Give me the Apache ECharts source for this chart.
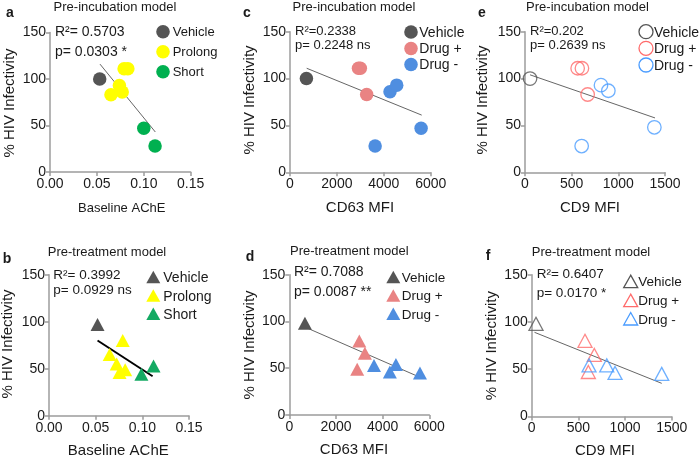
<!DOCTYPE html>
<html>
<head>
<meta charset="utf-8">
<script src="https://cdn.jsdelivr.net/npm/echarts@6/dist/echarts.min.js"></script>
<style>html,body{margin:0;background:#fff}#chart{width:700px;height:459px}</style>
</head>
<body>
<div id="chart"></div>
<script>
// 数据：% HIV Infectivity
var yTicks = [0, 50, 100, 150];
// a / b : Baseline AChE
var aVehicle = [[0.053, 100]];
var aProlong = [[0.065, 83], [0.074, 93], [0.077, 86], [0.079, 111], [0.083, 111]];
var aShort = [[0.100, 47], [0.112, 28]];
var aFit = [[0.0533, 116], [0.1123, 43]];
var bVehicle = [[0.052, 97]];
var bProlong = [[0.065, 65], [0.0725, 55], [0.0756, 46], [0.079, 80], [0.0816, 49]];
var bShort = [[0.099, 44], [0.112, 53]];
var bFit = [[0.052, 80], [0.111, 42]];
// c / d : CD63 MFI
var cVehicle = [[700, 100]];
var cDrugPlus = [[2920, 111], [3000, 111], [3270, 83]];
var cDrugMinus = [[4265, 86], [4550, 93], [3630, 28], [5590, 47]];
var cFit = [[711, 111], [5616, 61]];
var dVehicle = [[670, 98]];
var dDrugPlus = [[3000, 79], [3240, 66], [2910, 49]];
var dDrugMinus = [[3630, 53], [4310, 46], [4570, 54], [5600, 45]];
var dFit = [[670, 94], [5630, 40]];
// e / f : CD9 MFI
var eVehicle = [[54, 100]];
var eDrugPlus = [[564, 111], [610, 111], [671, 83]];
var eDrugMinus = [[814, 93], [893, 87], [607, 28], [1386, 48]];
var eFit = [[54, 104], [1393, 58]];
var fVehicle = [[46, 98]];
var fDrugPlus = [[571, 80], [671, 65], [607, 47]];
var fDrugMinus = [[614, 54], [804, 54], [893, 46], [1393, 45]];
var fFit = [[30, 89], [1393, 35]];

var legendA = ['Vehicle', 'Prolong', 'Short'];
var legendC = ['Vehicle', 'Drug +', 'Drug -'];
var statText = {
    a: ['R²= 0.5703', 'p= 0.0303 *'],
    b: ['R²= 0.3992', 'p= 0.0929 ns'],
    c: ['R²=0.2338', 'p= 0.2248 ns'],
    d: ['R²= 0.7088', 'p= 0.0087 **'],
    e: ['R²=0.202', 'p= 0.2639 ns'],
    f: ['R²= 0.6407', 'p= 0.0170 *']
};

var FONT = 'Liberation Sans, Arial, sans-serif';
var GREY = '#555555';
var AXIS = '#9c9c9c';

var chart = echarts.init(document.getElementById('chart'), null, {renderer: 'canvas'});

var grids = [], xAxes = [], yAxes = [], series = [], graphic = [];

// 面板布局
var panels = [
    {id: 'a', grid: {left: 50, top: 32.5, width: 140.7, height: 139.5}, max: 0.15, interval: 0.05, dec: 2,
     title: 'Pre-incubation model', tx: 115, ty: 7, lx: 10, ly: 13,
     yname: [10, 103], xname: ['Baseline AChE', 121.7, 208, 13], stat: [55, 31.7, 51.7, 14],
     leg: {x: 163, tx: 172.7, rows: [31.7, 51.7, 71.7], names: legendA, fs: 13}},
    {id: 'b', grid: {left: 49, top: 274.7, width: 140, height: 141}, max: 0.15, interval: 0.05, dec: 2,
     title: 'Pre-treatment model', tx: 107, ty: 252.3, lx: 7, ly: 259,
     yname: [8, 344], xname: ['Baseline AChE', 118.3, 450.7, 15], stat: [53.3, 275.7, 290.7, 13.5],
     leg: {x: 153.3, tx: 163.3, rows: [277.3, 295.7, 314], names: legendA, fs: 14}},
    {id: 'c', grid: {left: 290, top: 31.7, width: 140.7, height: 140.6}, max: 6000, interval: 2000, dec: 0,
     title: 'Pre-incubation model', tx: 354, ty: 7, lx: 247, ly: 13,
     yname: [250, 100], xname: ['CD63 MFI', 360, 208.3, 15], stat: [295, 31.7, 45.7, 13],
     leg: {x: 411, tx: 419.3, rows: [32, 48.5, 64.5], names: legendC, fs: 14}},
    {id: 'd', grid: {left: 289.3, top: 274.7, width: 140, height: 140.3}, max: 6000, interval: 2000, dec: 0,
     title: 'Pre-treatment model', tx: 349.3, ty: 251.7, lx: 250, ly: 257,
     yname: [250, 345], xname: ['CD63 MFI', 354, 449.7, 15], stat: [294, 272.3, 291.7, 14],
     leg: {x: 393.3, tx: 401.7, rows: [277.3, 295.7, 314], names: legendC, fs: 13.5}},
    {id: 'e', grid: {left: 525, top: 31.7, width: 140, height: 140.6}, max: 1500, interval: 500, dec: 0,
     title: 'Pre-incubation model', tx: 587.5, ty: 7, lx: 482, ly: 13,
     yname: [483.3, 100], xname: ['CD9 MFI', 590, 208, 15], stat: [530, 31.7, 45.7, 13],
     leg: {x: 646, tx: 654, rows: [31.7, 48.3, 65], names: legendC, fs: 14}},
    {id: 'f', grid: {left: 531.7, top: 274.7, width: 140, height: 141.7}, max: 1500, interval: 500, dec: 0,
     title: 'Pre-treatment model', tx: 591, ty: 252.3, lx: 488, ly: 255.7,
     yname: [491.7, 345.7], xname: ['CD9 MFI', 605, 450.7, 15], stat: [536.7, 274.7, 293, 13.5],
     leg: {x: 630.7, tx: 638.3, rows: [281.7, 300.7, 319], names: legendC, fs: 13.5}}
];

// 每个面板的散点分组
var groups = {
    a: [[aVehicle, GREY, 'circle', false], [aProlong, '#ffff00', 'circle', false], [aShort, '#00b050', 'circle', false]],
    b: [[bVehicle, GREY, 'triangle', false], [bProlong, '#ffff00', 'triangle', false], [bShort, '#14aa63', 'triangle', false]],
    c: [[cVehicle, GREY, 'circle', false], [cDrugPlus, '#e98383', 'circle', false], [cDrugMinus, '#4f8ee0', 'circle', false]],
    d: [[dVehicle, GREY, 'triangle', false], [dDrugPlus, '#e98383', 'triangle', false], [dDrugMinus, '#4f8ee0', 'triangle', false]],
    e: [[eVehicle, GREY, 'circle', true], [eDrugPlus, '#ff6b6b', 'circle', true], [eDrugMinus, '#4a9cff', 'circle', true]],
    f: [[fVehicle, GREY, 'triangle', true], [fDrugPlus, '#ff6b6b', 'triangle', true], [fDrugMinus, '#4a9cff', 'triangle', true]]
};
var fits = {a: aFit, b: bFit, c: cFit, d: dFit, e: eFit, f: fFit};

function txt(text, x, y, size, opt) {
    opt = opt || {};
    return {
        type: 'text', x: x, y: y, rotation: opt.rot || 0, z: 10,
        style: {
            text: text, fontSize: size, fontFamily: FONT, fill: '#1a1a1a',
            fontWeight: opt.bold ? 'bold' : 'normal',
            textAlign: opt.align || 'center', textVerticalAlign: 'middle'
        }
    };
}

function legendIcon(shape, color, hollow, x, y) {
    var style = hollow ? {fill: 'none', stroke: color, lineWidth: 1.3} : {fill: color};
    if (shape === 'circle') {
        return {type: 'circle', z: 10, shape: {cx: x, cy: y, r: hollow ? 7 : 6.8}, style: style};
    }
    return {type: 'polygon', z: 10, shape: {points: [[x, y - 6.5], [x - 7, y + 6], [x + 7, y + 6]]}, style: style};
}

panels.forEach(function (p, i) {
    grids.push(p.grid);
    var axisLine = {lineStyle: {color: AXIS, width: 1.5}};
    xAxes.push({
        gridIndex: i, type: 'value', min: 0, max: p.max, interval: p.interval,
        axisLine: axisLine, axisTick: {length: 4, lineStyle: {color: AXIS, width: 1.5}},
        axisLabel: {fontSize: 14, fontFamily: FONT, color: '#1a1a1a', margin: 5,
            formatter: function (v) { return v.toFixed(p.dec); }},
        splitLine: {show: false}
    });
    yAxes.push({
        gridIndex: i, type: 'value', min: yTicks[0], max: yTicks[yTicks.length - 1], interval: 50,
        axisLine: {show: true, lineStyle: {color: AXIS, width: 1.5}},
        axisTick: {show: true, length: 4, lineStyle: {color: AXIS, width: 1.5}},
        axisLabel: {fontSize: 14, fontFamily: FONT, color: '#1a1a1a', margin: 4},
        splitLine: {show: false}
    });
    var fitIsBlack = p.id === 'b';
    series.push({
        type: 'line', xAxisIndex: i, yAxisIndex: i, data: fits[p.id], symbol: 'none', silent: true,
        lineStyle: {color: fitIsBlack ? '#000' : '#666', width: fitIsBlack ? 2 : 1}, z: 1
    });
    groups[p.id].forEach(function (g, k) {
        var tri = g[2] === 'triangle';
        series.push({
            type: 'scatter', xAxisIndex: i, yAxisIndex: i, name: p.leg.names[k] + '-' + p.id,
            data: g[0], symbol: g[2], symbolSize: tri ? [14, 13] : (g[3] ? 13.5 : 13.5),
            itemStyle: g[3] ? {color: 'rgba(255,255,255,0)', borderColor: g[1], borderWidth: 1.3}
                            : {color: g[1], opacity: 1},
            z: 2
        });
        graphic.push(legendIcon(g[2], g[1], g[3], p.leg.x, p.leg.rows[k]));
        graphic.push(txt(p.leg.names[k], p.leg.tx, p.leg.rows[k] + 1, p.leg.fs, {align: 'left'}));
    });
    graphic.push(txt(p.id, p.lx, p.ly, 14, {bold: true}));
    graphic.push(txt(p.title, p.tx, p.ty, 13));
    graphic.push(txt('% HIV Infectivity', p.yname[0], p.yname[1], 15, {rot: Math.PI / 2}));
    graphic.push(txt(p.xname[0], p.xname[1], p.xname[2], p.xname[3]));
    graphic.push(txt(statText[p.id][0], p.stat[0], p.stat[1], p.stat[3], {align: 'left'}));
    graphic.push(txt(statText[p.id][1], p.stat[0], p.stat[2], p.stat[3], {align: 'left'}));
});

chart.setOption({
    animation: false,
    backgroundColor: '#fff',
    grid: grids,
    xAxis: xAxes,
    yAxis: yAxes,
    series: series,
    graphic: graphic
});
</script>
</body>
</html>
